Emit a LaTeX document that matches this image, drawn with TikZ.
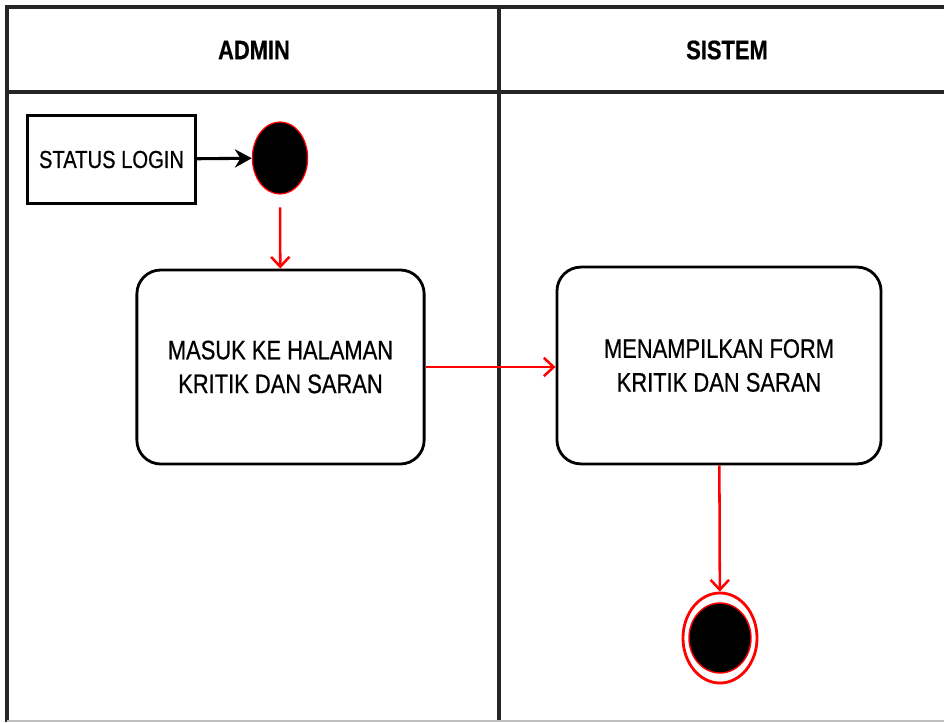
\documentclass[tikz,border=0pt]{standalone}
\usepackage{fontspec}
\setmainfont{Liberation Sans}[FakeStretch=0.82, FakeBold=0.6]
\usetikzlibrary{arrows.meta,shapes.geometric}

\begin{document}
\begin{tikzpicture}[
  x=0.025cm, y=-0.025cm,
  every node/.style={align=center, inner sep=0pt, font=\fontsize{19}{24}\selectfont},
  lane/.style={line width=2.2pt, black!85},
  header/.style={font=\fontsize{19}{24}\selectfont\bfseries},
  actbox/.style={draw, rounded corners=0.6cm, line width=2pt},
  inbox/.style={draw, line width=2.2pt, minimum width=4.2cm, minimum height=2.2cm, font=\fontsize{17.5}{21}\selectfont},
  startdot/.style={ellipse, draw=red, fill=black, line width=0.9pt, minimum width=1.38cm, minimum height=1.8cm},
  flow/.style={->, red, line width=1.8pt, >={Straight Barb[length=7pt, width=13pt, line width=1.8pt]}},
  >=Stealth
]
\useasboundingbox (0,0) rectangle (944,722);

% lanes
\draw[lane] (7,722) -- (7,7) -- (944,7);
\draw[lane] (7,92) -- (944,92);
\draw[lane] (499,7) -- (499,722);
\draw[black!25, line width=1pt] (7,721) -- (944,721);

\node[header] (hadmin) at (254,50) {ADMIN};
\node[header] (hsistem) at (727,50) {SISTEM};

% admin
\node[inbox] (login) at (111.5,159.5) {STATUS LOGIN};
\node[startdot] (start) at (280,158) {};
\node[actbox, minimum width=7.18cm, minimum height=4.85cm] (masuk) at (280.5,367) {MASUK KE HALAMAN\\KRITIK DAN SARAN};

% sistem
\node[actbox, minimum width=8.1cm, minimum height=4.92cm] (form) at (719,365.5) {MENAMPILKAN FORM\\KRITIK DAN SARAN};
\node[ellipse, draw=red, line width=2pt, minimum width=1.85cm, minimum height=2.25cm] (fin) at (720,638) {};
\node[ellipse, draw=red, fill=black, line width=1pt, minimum width=1.55cm, minimum height=1.75cm] (finin) at (fin.center) {};

\draw[->, line width=2.2pt, >={Stealth[length=12pt, width=13pt]}] (login) -- (start);
\draw[flow, shorten <=9pt] (start) -- (masuk);
\draw[flow] (masuk.east) -- (form.west |- masuk.east);
\draw[flow] (form) -- (fin);
\end{tikzpicture}
\end{document}
